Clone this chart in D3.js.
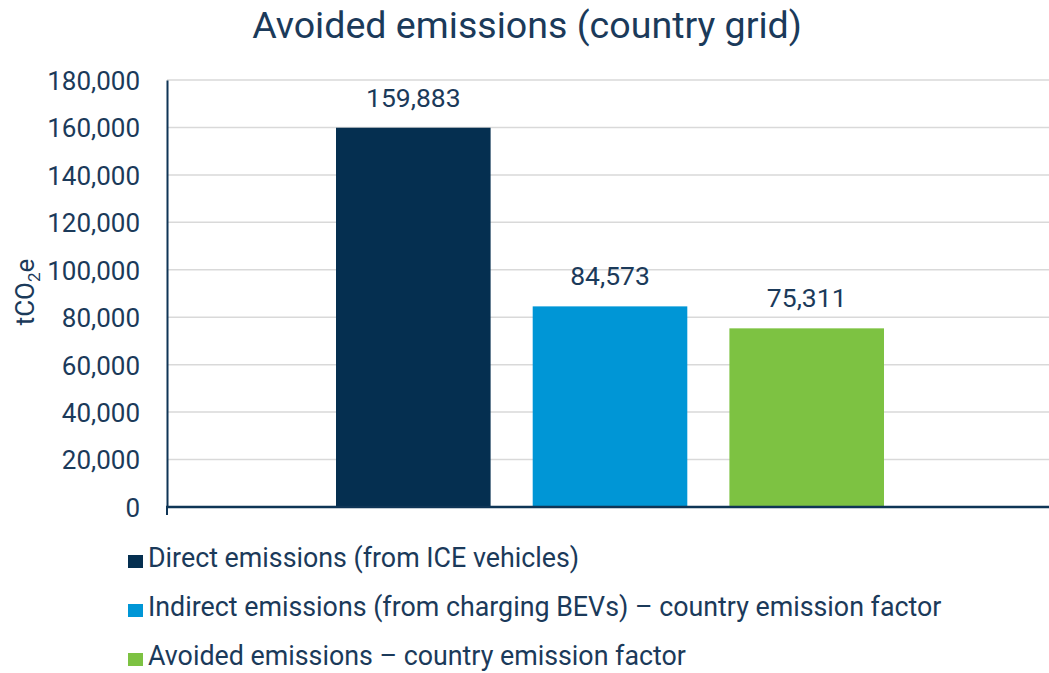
<!DOCTYPE html>
<html>
<head>
<meta charset="utf-8">
<script src="https://cdn.jsdelivr.net/npm/d3@7"></script>
<style>
  body { margin: 0; background: #fff; }
  text { font-family: Roboto, sans-serif; fill: #1b3a5a; }
</style>
</head>
<body>
<svg id="chart" width="1049" height="673"></svg>
<script>
const series = [
  'Direct emissions (from ICE vehicles)',
  'Indirect emissions (from charging BEVs) – country emission factor',
  'Avoided emissions – country emission factor'
];
const values = [159883, 84573, 75311];
const colours = ['#052f50', '#0096d6', '#7dc242'];
const yTicks = [0, 20000, 40000, 60000, 80000, 100000, 120000, 140000, 160000, 180000];

const svg = d3.select('#chart');
const plotLeft = 167, plotRight = 1049, plotTop = 80, plotBottom = 507;

const y = d3.scaleLinear().domain([0, 180000]).range([plotBottom, plotTop]);
const x = d3.scaleBand().domain(series).range([336, 884]).paddingInner(0.214);
const fmt = d3.format(',');

svg.append('text')
  .attr('x', 527).attr('y', 38)
  .attr('text-anchor', 'middle')
  .style('font-size', '37.6px')
  .text('Avoided emissions (country grid)');

// gridlines
svg.append('g')
  .selectAll('line')
  .data(yTicks.filter(d => d > 0))
  .enter().append('line')
  .attr('x1', plotLeft).attr('x2', plotRight)
  .attr('y1', d => y(d)).attr('y2', d => y(d))
  .attr('stroke', '#d9d9d9')
  .attr('stroke-width', 1.5);

const yAxis = svg.append('g')
  .attr('transform', `translate(${plotLeft},0)`)
  .call(d3.axisLeft(y).tickValues(yTicks).tickFormat(fmt).tickSize(0).tickPadding(27));
yAxis.select('.domain').attr('stroke', '#0f3556').attr('stroke-width', 2);
yAxis.selectAll('text').style('font-size', '26px').attr('fill', '#1b3a5a').attr('dy', '0.36em');

svg.selectAll('.bar')
  .data(values)
  .enter().append('rect')
  .attr('class', 'bar')
  .attr('x', (d, i) => x(series[i]))
  .attr('width', x.bandwidth())
  .attr('y', d => y(d))
  .attr('height', d => y(0) - y(d))
  .attr('fill', (d, i) => colours[i]);

svg.selectAll('.val')
  .data(values)
  .enter().append('text')
  .attr('class', 'val')
  .attr('x', (d, i) => x(series[i]) + x.bandwidth() / 2)
  .attr('y', d => y(d) - 21)
  .attr('text-anchor', 'middle')
  .style('font-size', '26.5px')
  .text(d => fmt(d));

// x axis line
svg.append('line')
  .attr('x1', plotLeft - 1).attr('x2', plotRight)
  .attr('y1', plotBottom).attr('y2', plotBottom)
  .attr('stroke', '#0f3556')
  .attr('stroke-width', 2.5);
svg.append('line')
  .attr('x1', plotLeft).attr('x2', plotLeft)
  .attr('y1', plotBottom).attr('y2', plotBottom + 8)
  .attr('stroke', '#0f3556')
  .attr('stroke-width', 2);

// y label
const yl = svg.append('text')
  .attr('transform', 'translate(34,292) rotate(-90)')
  .attr('text-anchor', 'middle')
  .style('font-size', '26px');
yl.append('tspan').text('tCO');
yl.append('tspan').attr('dy', 6).style('font-size', '17px').text('2');
yl.append('tspan').attr('dy', -6).text('e');

// legend
const legend = svg.append('g')
  .selectAll('g')
  .data(series)
  .enter().append('g')
  .attr('transform', (d, i) => `translate(128,${567 + i * 49})`);
legend.append('rect')
  .attr('x', 0).attr('y', -12)
  .attr('width', 15).attr('height', 13)
  .attr('fill', (d, i) => colours[i]);
legend.append('text')
  .attr('x', 20).attr('y', 0)
  .style('font-size', '26.8px')
  .text(d => d);
</script>
</body>
</html>
